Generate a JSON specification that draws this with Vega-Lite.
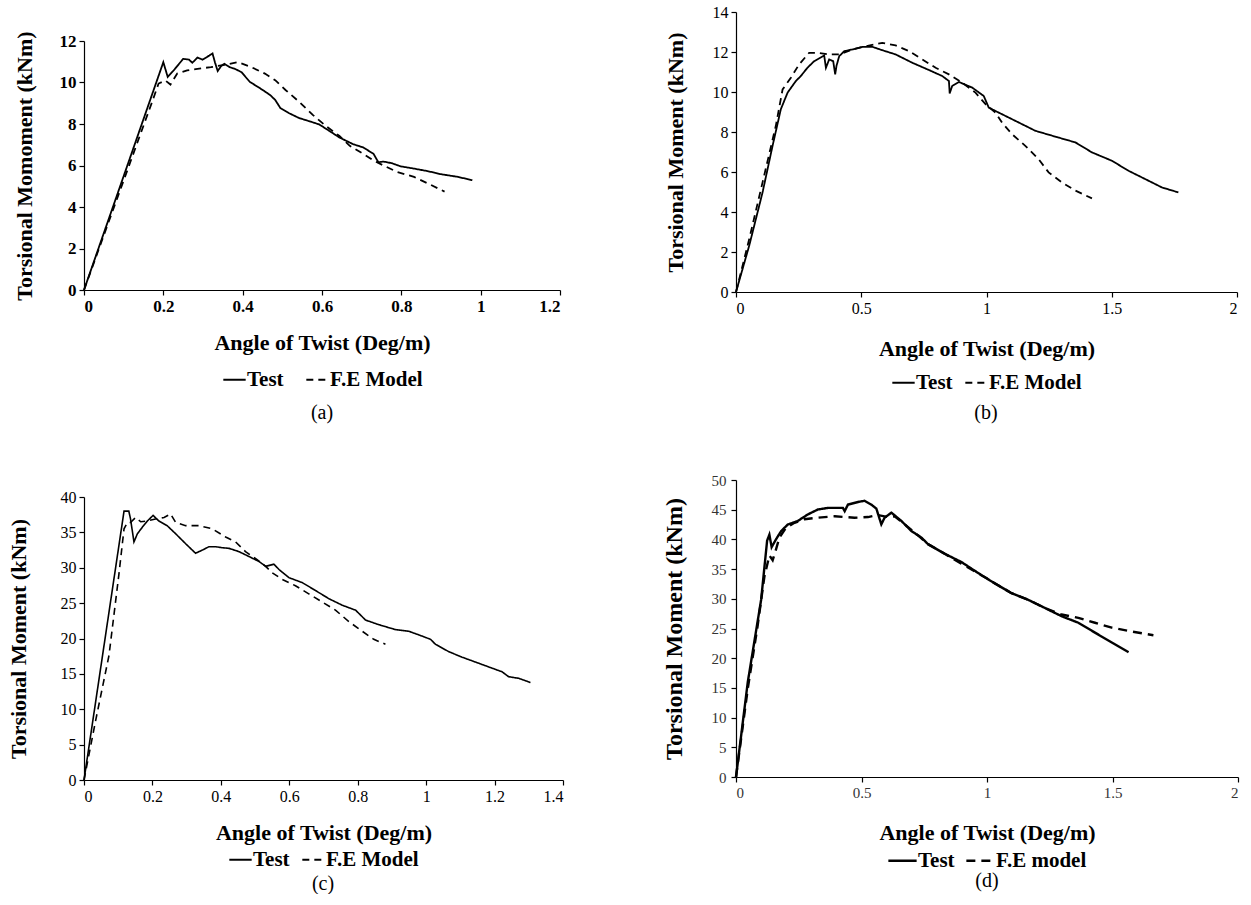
{
  "$schema": "https://vega.github.io/schema/vega-lite/v6.json",
  "background": "white",
  "padding": {"left": 6, "top": 4, "right": 4, "bottom": 0},
  "config": {
    "view": {"stroke": null},
    "font": "Liberation Serif",
    "axis": {"grid": false, "domainColor": "black", "tickColor": "black", "domainWidth": 1.2, "tickWidth": 1.2, "tickSize": 5, "labelColor": "black", "titleColor": "black", "labelFont": "Liberation Serif", "titleFont": "Liberation Serif", "titleFontWeight": "bold", "titleFontSize": 22, "labelFontSize": 16, "labelPadding": 3},
    "legend": {"layout": {"bottom": {"anchor": "middle"}}, "orient": "bottom", "direction": "horizontal", "titleOrient": "bottom", "titleAnchor": "middle", "titleFont": "Liberation Serif", "titleFontWeight": "normal", "titleFontSize": 20, "titleColor": "black", "labelFont": "Liberation Serif", "labelFontWeight": "bold", "labelFontSize": 21, "labelColor": "black", "symbolType": "stroke", "symbolStrokeColor": "black", "labelOffset": 0}
  },
  "datasets": {
    "a": [
      {"x":0,"y":0,"s":"Test"},{"x":0.2,"y":10.98,"s":"Test"},{"x":0.211,"y":10.27,"s":"Test"},{"x":0.226,"y":10.58,"s":"Test"},{"x":0.25,"y":11.14,"s":"Test"},{"x":0.265,"y":11.1,"s":"Test"},{"x":0.273,"y":10.95,"s":"Test"},{"x":0.286,"y":11.2,"s":"Test"},{"x":0.299,"y":11.1,"s":"Test"},{"x":0.316,"y":11.3,"s":"Test"},{"x":0.324,"y":11.4,"s":"Test"},{"x":0.33,"y":10.98,"s":"Test"},{"x":0.337,"y":10.55,"s":"Test"},{"x":0.346,"y":10.8,"s":"Test"},{"x":0.354,"y":10.9,"s":"Test"},{"x":0.367,"y":10.74,"s":"Test"},{"x":0.38,"y":10.66,"s":"Test"},{"x":0.397,"y":10.5,"s":"Test"},{"x":0.418,"y":10.03,"s":"Test"},{"x":0.444,"y":9.72,"s":"Test"},{"x":0.469,"y":9.4,"s":"Test"},{"x":0.482,"y":9.16,"s":"Test"},{"x":0.495,"y":8.77,"s":"Test"},{"x":0.516,"y":8.53,"s":"Test"},{"x":0.542,"y":8.29,"s":"Test"},{"x":0.567,"y":8.14,"s":"Test"},{"x":0.593,"y":7.98,"s":"Test"},{"x":0.619,"y":7.66,"s":"Test"},{"x":0.644,"y":7.35,"s":"Test"},{"x":0.678,"y":7.03,"s":"Test"},{"x":0.704,"y":6.87,"s":"Test"},{"x":0.73,"y":6.56,"s":"Test"},{"x":0.742,"y":6.16,"s":"Test"},{"x":0.755,"y":6.19,"s":"Test"},{"x":0.776,"y":6.11,"s":"Test"},{"x":0.798,"y":5.96,"s":"Test"},{"x":0.832,"y":5.85,"s":"Test"},{"x":0.866,"y":5.73,"s":"Test"},{"x":0.9,"y":5.58,"s":"Test"},{"x":0.943,"y":5.45,"s":"Test"},{"x":0.979,"y":5.29,"s":"Test"},
      {"x":0,"y":0,"s":"F.E Model"},{"x":0.175,"y":9.24,"s":"F.E Model"},{"x":0.188,"y":9.95,"s":"F.E Model"},{"x":0.205,"y":10.1,"s":"F.E Model"},{"x":0.218,"y":9.9,"s":"F.E Model"},{"x":0.235,"y":10.43,"s":"F.E Model"},{"x":0.26,"y":10.58,"s":"F.E Model"},{"x":0.286,"y":10.66,"s":"F.E Model"},{"x":0.32,"y":10.74,"s":"F.E Model"},{"x":0.354,"y":10.85,"s":"F.E Model"},{"x":0.388,"y":10.98,"s":"F.E Model"},{"x":0.422,"y":10.74,"s":"F.E Model"},{"x":0.456,"y":10.43,"s":"F.E Model"},{"x":0.482,"y":10.11,"s":"F.E Model"},{"x":0.508,"y":9.64,"s":"F.E Model"},{"x":0.542,"y":9.08,"s":"F.E Model"},{"x":0.576,"y":8.45,"s":"F.E Model"},{"x":0.61,"y":7.9,"s":"F.E Model"},{"x":0.644,"y":7.42,"s":"F.E Model"},{"x":0.67,"y":6.95,"s":"F.E Model"},{"x":0.704,"y":6.56,"s":"F.E Model"},{"x":0.73,"y":6.24,"s":"F.E Model"},{"x":0.755,"y":6.0,"s":"F.E Model"},{"x":0.789,"y":5.69,"s":"F.E Model"},{"x":0.832,"y":5.45,"s":"F.E Model"},{"x":0.875,"y":5.06,"s":"F.E Model"},{"x":0.909,"y":4.74,"s":"F.E Model"}
    ],
    "b": [
      {"x":0,"y":0,"s":"Test"},{"x":0.053,"y":2.33,"s":"Test"},{"x":0.106,"y":4.98,"s":"Test"},{"x":0.146,"y":7.31,"s":"Test"},{"x":0.179,"y":9.14,"s":"Test"},{"x":0.206,"y":9.97,"s":"Test"},{"x":0.239,"y":10.55,"s":"Test"},{"x":0.259,"y":10.8,"s":"Test"},{"x":0.285,"y":11.21,"s":"Test"},{"x":0.312,"y":11.54,"s":"Test"},{"x":0.352,"y":11.83,"s":"Test"},{"x":0.359,"y":11.21,"s":"Test"},{"x":0.372,"y":11.63,"s":"Test"},{"x":0.388,"y":11.54,"s":"Test"},{"x":0.396,"y":10.88,"s":"Test"},{"x":0.401,"y":11.3,"s":"Test"},{"x":0.412,"y":11.79,"s":"Test"},{"x":0.432,"y":12.04,"s":"Test"},{"x":0.465,"y":12.13,"s":"Test"},{"x":0.505,"y":12.26,"s":"Test"},{"x":0.544,"y":12.26,"s":"Test"},{"x":0.584,"y":12.09,"s":"Test"},{"x":0.637,"y":11.88,"s":"Test"},{"x":0.704,"y":11.46,"s":"Test"},{"x":0.77,"y":11.1,"s":"Test"},{"x":0.823,"y":10.8,"s":"Test"},{"x":0.85,"y":10.55,"s":"Test"},{"x":0.853,"y":9.93,"s":"Test"},{"x":0.863,"y":10.3,"s":"Test"},{"x":0.89,"y":10.5,"s":"Test"},{"x":0.943,"y":10.22,"s":"Test"},{"x":0.989,"y":9.8,"s":"Test"},{"x":1.009,"y":9.22,"s":"Test"},{"x":1.036,"y":9.05,"s":"Test"},{"x":1.102,"y":8.64,"s":"Test"},{"x":1.195,"y":8.06,"s":"Test"},{"x":1.288,"y":7.72,"s":"Test"},{"x":1.355,"y":7.48,"s":"Test"},{"x":1.421,"y":6.98,"s":"Test"},{"x":1.501,"y":6.56,"s":"Test"},{"x":1.567,"y":6.06,"s":"Test"},{"x":1.633,"y":5.65,"s":"Test"},{"x":1.7,"y":5.23,"s":"Test"},{"x":1.766,"y":4.98,"s":"Test"},
      {"x":0,"y":0,"s":"F.E Model"},{"x":0.053,"y":2.66,"s":"F.E Model"},{"x":0.106,"y":5.48,"s":"F.E Model"},{"x":0.159,"y":8.31,"s":"F.E Model"},{"x":0.186,"y":10.13,"s":"F.E Model"},{"x":0.219,"y":10.71,"s":"F.E Model"},{"x":0.252,"y":11.38,"s":"F.E Model"},{"x":0.292,"y":11.96,"s":"F.E Model"},{"x":0.325,"y":11.96,"s":"F.E Model"},{"x":0.372,"y":11.88,"s":"F.E Model"},{"x":0.412,"y":11.88,"s":"F.E Model"},{"x":0.465,"y":12.13,"s":"F.E Model"},{"x":0.518,"y":12.29,"s":"F.E Model"},{"x":0.584,"y":12.46,"s":"F.E Model"},{"x":0.637,"y":12.33,"s":"F.E Model"},{"x":0.691,"y":12.04,"s":"F.E Model"},{"x":0.744,"y":11.63,"s":"F.E Model"},{"x":0.797,"y":11.21,"s":"F.E Model"},{"x":0.85,"y":10.88,"s":"F.E Model"},{"x":0.903,"y":10.47,"s":"F.E Model"},{"x":0.956,"y":9.97,"s":"F.E Model"},{"x":0.996,"y":9.39,"s":"F.E Model"},{"x":1.036,"y":8.97,"s":"F.E Model"},{"x":1.062,"y":8.47,"s":"F.E Model"},{"x":1.102,"y":7.89,"s":"F.E Model"},{"x":1.155,"y":7.31,"s":"F.E Model"},{"x":1.208,"y":6.64,"s":"F.E Model"},{"x":1.248,"y":5.98,"s":"F.E Model"},{"x":1.301,"y":5.48,"s":"F.E Model"},{"x":1.355,"y":5.07,"s":"F.E Model"},{"x":1.421,"y":4.68,"s":"F.E Model"}
    ],
    "c": [
      {"x":0,"y":0,"s":"Test"},{"x":0.117,"y":38.0,"s":"Test"},{"x":0.131,"y":38.0,"s":"Test"},{"x":0.136,"y":36.9,"s":"Test"},{"x":0.146,"y":33.65,"s":"Test"},{"x":0.156,"y":34.8,"s":"Test"},{"x":0.17,"y":35.7,"s":"Test"},{"x":0.185,"y":36.6,"s":"Test"},{"x":0.202,"y":37.4,"s":"Test"},{"x":0.219,"y":36.6,"s":"Test"},{"x":0.243,"y":35.95,"s":"Test"},{"x":0.268,"y":34.8,"s":"Test"},{"x":0.297,"y":33.4,"s":"Test"},{"x":0.326,"y":32.05,"s":"Test"},{"x":0.346,"y":32.5,"s":"Test"},{"x":0.365,"y":32.97,"s":"Test"},{"x":0.385,"y":32.97,"s":"Test"},{"x":0.404,"y":32.83,"s":"Test"},{"x":0.424,"y":32.74,"s":"Test"},{"x":0.453,"y":32.28,"s":"Test"},{"x":0.482,"y":31.59,"s":"Test"},{"x":0.511,"y":30.9,"s":"Test"},{"x":0.531,"y":30.2,"s":"Test"},{"x":0.555,"y":30.5,"s":"Test"},{"x":0.57,"y":29.75,"s":"Test"},{"x":0.599,"y":28.6,"s":"Test"},{"x":0.638,"y":27.9,"s":"Test"},{"x":0.677,"y":26.77,"s":"Test"},{"x":0.716,"y":25.62,"s":"Test"},{"x":0.755,"y":24.7,"s":"Test"},{"x":0.794,"y":24.0,"s":"Test"},{"x":0.823,"y":22.6,"s":"Test"},{"x":0.862,"y":21.95,"s":"Test"},{"x":0.91,"y":21.26,"s":"Test"},{"x":0.949,"y":21.03,"s":"Test"},{"x":0.988,"y":20.34,"s":"Test"},{"x":1.013,"y":19.88,"s":"Test"},{"x":1.027,"y":19.19,"s":"Test"},{"x":1.066,"y":18.14,"s":"Test"},{"x":1.105,"y":17.36,"s":"Test"},{"x":1.144,"y":16.67,"s":"Test"},{"x":1.183,"y":15.98,"s":"Test"},{"x":1.222,"y":15.29,"s":"Test"},{"x":1.241,"y":14.6,"s":"Test"},{"x":1.271,"y":14.37,"s":"Test"},{"x":1.305,"y":13.77,"s":"Test"},
      {"x":0,"y":0,"s":"F.E Model"},{"x":0.034,"y":8.4,"s":"F.E Model"},{"x":0.073,"y":17.6,"s":"F.E Model"},{"x":0.102,"y":29.06,"s":"F.E Model"},{"x":0.117,"y":35.5,"s":"F.E Model"},{"x":0.127,"y":36.4,"s":"F.E Model"},{"x":0.136,"y":36.4,"s":"F.E Model"},{"x":0.151,"y":37.1,"s":"F.E Model"},{"x":0.166,"y":36.5,"s":"F.E Model"},{"x":0.185,"y":36.6,"s":"F.E Model"},{"x":0.209,"y":36.9,"s":"F.E Model"},{"x":0.234,"y":37.1,"s":"F.E Model"},{"x":0.253,"y":37.6,"s":"F.E Model"},{"x":0.268,"y":36.4,"s":"F.E Model"},{"x":0.297,"y":35.95,"s":"F.E Model"},{"x":0.336,"y":35.95,"s":"F.E Model"},{"x":0.375,"y":35.5,"s":"F.E Model"},{"x":0.414,"y":34.34,"s":"F.E Model"},{"x":0.443,"y":33.65,"s":"F.E Model"},{"x":0.472,"y":32.28,"s":"F.E Model"},{"x":0.506,"y":31.13,"s":"F.E Model"},{"x":0.531,"y":30.2,"s":"F.E Model"},{"x":0.55,"y":29.3,"s":"F.E Model"},{"x":0.579,"y":28.37,"s":"F.E Model"},{"x":0.618,"y":27.46,"s":"F.E Model"},{"x":0.657,"y":26.31,"s":"F.E Model"},{"x":0.696,"y":25.16,"s":"F.E Model"},{"x":0.735,"y":24.01,"s":"F.E Model"},{"x":0.774,"y":22.4,"s":"F.E Model"},{"x":0.813,"y":21.03,"s":"F.E Model"},{"x":0.847,"y":19.88,"s":"F.E Model"},{"x":0.881,"y":19.19,"s":"F.E Model"}
    ],
    "d": [
      {"x":0,"y":0,"s":"Test"},{"x":0.047,"y":16.0,"s":"Test"},{"x":0.1,"y":29.8,"s":"Test"},{"x":0.124,"y":39.8,"s":"Test"},{"x":0.133,"y":40.8,"s":"Test"},{"x":0.142,"y":38.7,"s":"Test"},{"x":0.16,"y":40.06,"s":"Test"},{"x":0.18,"y":41.4,"s":"Test"},{"x":0.206,"y":42.5,"s":"Test"},{"x":0.246,"y":43.1,"s":"Test"},{"x":0.286,"y":44.2,"s":"Test"},{"x":0.326,"y":45.03,"s":"Test"},{"x":0.366,"y":45.3,"s":"Test"},{"x":0.426,"y":45.3,"s":"Test"},{"x":0.433,"y":44.75,"s":"Test"},{"x":0.446,"y":45.86,"s":"Test"},{"x":0.486,"y":46.3,"s":"Test"},{"x":0.512,"y":46.5,"s":"Test"},{"x":0.539,"y":45.86,"s":"Test"},{"x":0.559,"y":45.2,"s":"Test"},{"x":0.579,"y":42.54,"s":"Test"},{"x":0.592,"y":43.65,"s":"Test"},{"x":0.619,"y":44.5,"s":"Test"},{"x":0.659,"y":43.1,"s":"Test"},{"x":0.699,"y":41.4,"s":"Test"},{"x":0.739,"y":40.3,"s":"Test"},{"x":0.765,"y":39.2,"s":"Test"},{"x":0.832,"y":37.57,"s":"Test"},{"x":0.898,"y":36.19,"s":"Test"},{"x":0.978,"y":33.98,"s":"Test"},{"x":1.031,"y":32.6,"s":"Test"},{"x":1.098,"y":30.94,"s":"Test"},{"x":1.164,"y":29.83,"s":"Test"},{"x":1.231,"y":28.45,"s":"Test"},{"x":1.297,"y":27.07,"s":"Test"},{"x":1.364,"y":25.97,"s":"Test"},{"x":1.43,"y":24.31,"s":"Test"},{"x":1.497,"y":22.65,"s":"Test"},{"x":1.564,"y":21.0,"s":"Test"},
      {"x":0,"y":0,"s":"F.E model"},{"x":0.047,"y":14.9,"s":"F.E model"},{"x":0.086,"y":25.4,"s":"F.E model"},{"x":0.113,"y":33.7,"s":"F.E model"},{"x":0.133,"y":37.3,"s":"F.E model"},{"x":0.146,"y":36.5,"s":"F.E model"},{"x":0.16,"y":38.4,"s":"F.E model"},{"x":0.173,"y":40.3,"s":"F.E model"},{"x":0.2,"y":42.0,"s":"F.E model"},{"x":0.233,"y":42.8,"s":"F.E model"},{"x":0.273,"y":43.4,"s":"F.E model"},{"x":0.326,"y":43.65,"s":"F.E model"},{"x":0.393,"y":43.9,"s":"F.E model"},{"x":0.472,"y":43.65,"s":"F.E model"},{"x":0.526,"y":43.76,"s":"F.E model"},{"x":0.566,"y":44.1,"s":"F.E model"},{"x":0.606,"y":43.76,"s":"F.E model"},{"x":0.632,"y":43.9,"s":"F.E model"},{"x":0.672,"y":42.54,"s":"F.E model"},{"x":0.712,"y":41.16,"s":"F.E model"},{"x":0.765,"y":39.2,"s":"F.E model"},{"x":0.832,"y":37.57,"s":"F.E model"},{"x":0.898,"y":35.9,"s":"F.E model"},{"x":0.978,"y":33.98,"s":"F.E model"},{"x":1.031,"y":32.6,"s":"F.E model"},{"x":1.098,"y":30.94,"s":"F.E model"},{"x":1.164,"y":29.83,"s":"F.E model"},{"x":1.231,"y":28.45,"s":"F.E model"},{"x":1.297,"y":27.35,"s":"F.E model"},{"x":1.364,"y":26.8,"s":"F.E model"},{"x":1.43,"y":25.97,"s":"F.E model"},{"x":1.497,"y":25.14,"s":"F.E model"},{"x":1.564,"y":24.59,"s":"F.E model"},{"x":1.663,"y":23.87,"s":"F.E model"}
    ]
  },
  "spacing": 97,
  "resolve": {"scale": {"strokeDash": "independent"}, "legend": {"strokeDash": "independent"}},
  "hconcat": [
    {
      "spacing": 0,
      "resolve": {"scale": {"strokeDash": "independent"}, "legend": {"strokeDash": "independent"}},
      "vconcat": [
        {
          "width": 476, "height": 18,
          "data": {"values": [{}]},
          "mark": {"type": "text", "text": ""},
          "encoding": {}
        },
        {
          "spacing": 66,
          "resolve": {"scale": {"strokeDash": "independent"}, "legend": {"strokeDash": "independent"}},
          "vconcat": [
            {
              "width": 476, "height": 249,
              "data": {"name": "a"},
              "mark": {"type": "line", "color": "black", "strokeWidth": 1.8},
              "encoding": {
                "x": {"field": "x", "type": "quantitative", "scale": {"domain": [0, 1.2], "nice": false},
                  "axis": {"values": [0, 0.2, 0.4, 0.6, 0.8, 1, 1.2], "format": "~g", "title": "Angle of Twist (Deg/m)", "labelFontWeight": "bold", "labelFontSize": 17, "titlePadding": 18}},
                "y": {"field": "y", "type": "quantitative", "scale": {"domain": [0, 12], "nice": false},
                  "axis": {"values": [0, 2, 4, 6, 8, 10, 12], "title": "Torsional Momoment (kNm)", "labelFontWeight": "bold", "labelFontSize": 17, "titlePadding": 23}},
                "strokeDash": {"field": "s", "type": "nominal", "scale": {"domain": ["Test", "F.E Model"], "range": [[1, 0], [7, 5]]},
                  "legend": {"title": "(a)", "titlePadding": 13, "symbolSize": 500, "symbolStrokeWidth": 2, "columnPadding": 18, "offset": 14}}
              }
            },
            {
              "width": 479, "height": 283,
              "data": {"name": "c"},
              "mark": {"type": "line", "color": "black", "strokeWidth": 1.6},
              "encoding": {
                "x": {"field": "x", "type": "quantitative", "scale": {"domain": [0, 1.4], "nice": false},
                  "axis": {"values": [0, 0.2, 0.4, 0.6, 0.8, 1, 1.2, 1.4], "format": "~g", "title": "Angle of Twist (Deg/m)", "titlePadding": 18}},
                "y": {"field": "y", "type": "quantitative", "scale": {"domain": [0, 40], "nice": false},
                  "axis": {"values": [0, 5, 10, 15, 20, 25, 30, 35, 40], "title": "Torsional Moment (kNm)", "titlePadding": 30}},
                "strokeDash": {"field": "s", "type": "nominal", "scale": {"domain": ["Test", "F.E Model"], "range": [[1, 0], [7, 5]]},
                  "legend": {"title": "(c)", "titlePadding": 4, "symbolSize": 500, "symbolStrokeWidth": 2, "columnPadding": 8, "offset": 4}}
              }
            }
          ]
        }
      ]
    },
    {
      "spacing": 50,
      "resolve": {"scale": {"strokeDash": "independent"}, "legend": {"strokeDash": "independent"}},
      "vconcat": [
        {
          "width": 501, "height": 280,
          "data": {"name": "b"},
          "mark": {"type": "line", "color": "black", "strokeWidth": 1.8},
          "encoding": {
            "x": {"field": "x", "type": "quantitative", "scale": {"domain": [0, 2], "nice": false},
              "axis": {"values": [0, 0.5, 1, 1.5, 2], "format": "~g", "title": "Angle of Twist (Deg/m)", "titlePadding": 22}},
            "y": {"field": "y", "type": "quantitative", "scale": {"domain": [0, 14], "nice": false},
              "axis": {"values": [0, 2, 4, 6, 8, 10, 12, 14], "title": "Torsional Moment (kNm)", "titlePadding": 25}},
            "strokeDash": {"field": "s", "type": "nominal", "scale": {"domain": ["Test", "F.E Model"], "range": [[1, 0], [7, 5]]},
              "legend": {"title": "(b)", "titlePadding": 10, "symbolSize": 500, "symbolStrokeWidth": 2, "columnPadding": 8, "offset": 11}}
          }
        },
        {
          "width": 502, "height": 297,
          "data": {"name": "d"},
          "mark": {"type": "line", "color": "black", "strokeWidth": 2.4},
          "encoding": {
            "x": {"field": "x", "type": "quantitative", "scale": {"domain": [0, 2], "nice": false},
              "axis": {"values": [0, 0.5, 1, 1.5, 2], "format": "~g", "title": "Angle of Twist (Deg/m)", "labelFont": "Liberation Sans Narrow", "labelFontSize": 15, "labelColor": "#333333", "titlePadding": 22}},
            "y": {"field": "y", "type": "quantitative", "scale": {"domain": [0, 50], "nice": false},
              "axis": {"values": [0, 5, 10, 15, 20, 25, 30, 35, 40, 45, 50], "title": "Torsional Moment (kNm)", "titleFontSize": 24, "labelFont": "Liberation Sans Narrow", "labelFontSize": 15, "labelColor": "#333333", "labelPadding": 5, "titlePadding": 25}},
            "strokeDash": {"field": "s", "type": "nominal", "scale": {"domain": ["Test", "F.E model"], "range": [[1, 0], [9, 6]]},
              "legend": {"title": "(d)", "titlePadding": 0, "symbolSize": 800, "symbolStrokeWidth": 2.6, "columnPadding": 6, "offset": 2}}
          }
        }
      ]
    }
  ]
}
